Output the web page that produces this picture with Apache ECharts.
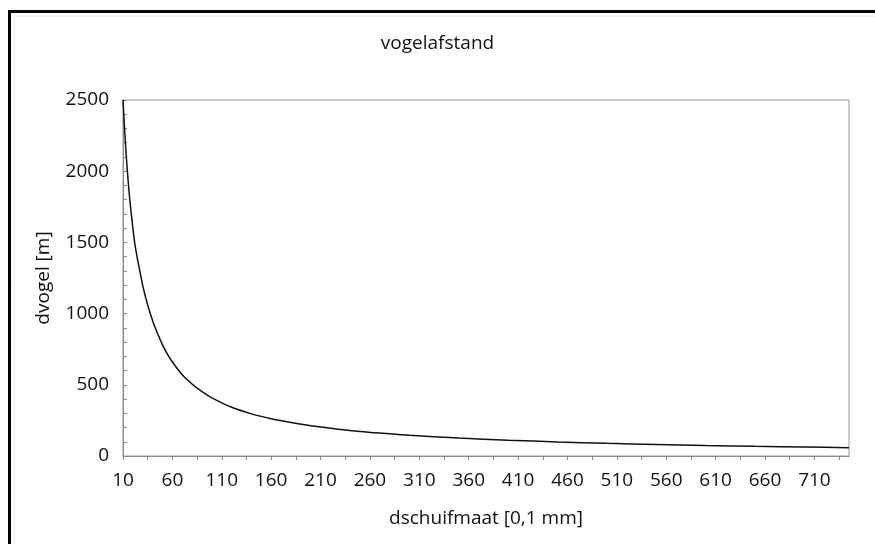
<!DOCTYPE html>
<html>
<head>
<meta charset="utf-8">
<title>vogelafstand</title>
<script src="https://cdn.jsdelivr.net/npm/echarts@6/dist/echarts.min.js"></script>
<style>
  html, body { margin: 0; padding: 0; background: #fff; }
  #chart { width: 875px; height: 544px; }
</style>
</head>
<body>
<div id="chart"></div>
<script>
// caliper reading [0,1 mm] and the matching bird's-eye distance [m]
const schuifmaat = [10, 11, 12, 13, 14, 15, 17, 20, 22, 25, 28, 30, 35, 40, 45, 50, 55, 60, 70, 80, 90, 100, 120, 140, 160, 180, 200, 250, 300, 350, 400, 450, 500, 550, 600, 650, 700, 745];
const dvogel = [2500, 2370, 2250, 2140, 2040, 1950, 1790, 1600, 1490, 1370, 1265, 1195, 1060, 950, 860, 780, 715, 660, 570, 505, 452, 408, 342, 296, 262, 236, 213, 172, 146, 126, 111, 99, 89, 81, 74, 68, 63, 58];

// x-axis labels and tick marks
const xLabels = [10, 60, 110, 160, 210, 260, 310, 360, 410, 460, 510, 560, 610, 660, 710];
const xTicks = [10, 35, 60, 85, 110, 135, 160, 185, 210, 235, 260, 285, 310, 335, 360, 385, 410, 435, 460, 485, 510, 535, 560, 585, 610, 635, 660, 685, 710, 735];

const points = schuifmaat.map((x, i) => [x, dvogel[i]]);

const font = '"Open Sans", "Liberation Sans", sans-serif';
const chart = echarts.init(document.getElementById('chart'), null, { renderer: 'canvas' });

chart.setOption({
  animation: false,
  backgroundColor: '#fff',
  title: {
    text: 'vogelafstand',
    left: 'center',
    top: 29,
    textStyle: { fontFamily: font, fontSize: 19, fontWeight: 'normal', color: '#111' }
  },
  graphic: [
    // outer frame, top and left edges
    { type: 'line', shape: { x1: 8, y1: 11.5, x2: 875, y2: 11.5 }, style: { stroke: '#000', lineWidth: 3 } },
    { type: 'line', shape: { x1: 9.5, y1: 10, x2: 9.5, y2: 544 }, style: { stroke: '#000', lineWidth: 3 } },
    { type: 'line', shape: { x1: 14.5, y1: 16.5, x2: 875, y2: 16.5 }, style: { stroke: '#eee', lineWidth: 1 } },
    { type: 'line', shape: { x1: 14.5, y1: 16.5, x2: 14.5, y2: 544 }, style: { stroke: '#eee', lineWidth: 1 } }
  ],
  grid: {
    left: 123, right: 26, top: 100, bottom: 88,
    show: true, borderColor: '#9a9a9a', borderWidth: 1
  },
  xAxis: {
    type: 'value',
    min: 10,
    max: 745,
    name: 'dschuifmaat [0,1 mm]',
    nameLocation: 'middle',
    nameGap: 53,
    nameTextStyle: { fontFamily: font, fontSize: 19, color: '#111' },
    axisLine: { show: true, lineStyle: { color: '#888', width: 1 } },
    axisTick: { show: true, length: 4, customValues: xTicks, lineStyle: { color: '#888' } },
    axisLabel: { customValues: xLabels, margin: 15, fontFamily: font, fontSize: 19, color: '#111' },
    splitLine: { show: false }
  },
  yAxis: {
    type: 'value',
    min: 0,
    max: 2500,
    interval: 500,
    name: 'dvogel [m]',
    nameLocation: 'middle',
    nameGap: 70,
    nameTextStyle: { fontFamily: font, fontSize: 19, color: '#111' },
    axisLine: { show: true, lineStyle: { color: '#888', width: 1 } },
    axisTick: { show: true, inside: true, length: 4, lineStyle: { color: '#888' } },
    minorTick: { show: true, splitNumber: 5, length: 4, lineStyle: { color: '#888' } },
    axisLabel: { margin: 14, fontFamily: font, fontSize: 19, color: '#111', formatter: v => String(v) },
    splitLine: { show: false }
  },
  series: [{
    type: 'line',
    data: points,
    smooth: 0.25,
    showSymbol: false,
    lineStyle: { color: '#111', width: 1.5 }
  }]
});
</script>
</body>
</html>
